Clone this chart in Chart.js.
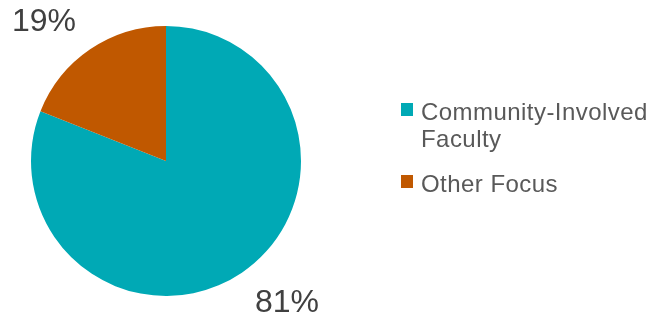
<!DOCTYPE html>
<html>
<head>
<meta charset="utf-8">
<script src="https://cdn.jsdelivr.net/npm/chart.js@4"></script>
<style>
  html, body { margin: 0; padding: 0; background: #fff; }
  #wrap { width: 656px; height: 317px; }
</style>
</head>
<body>
<div id="wrap"><canvas id="myChart" width="656" height="317"></canvas></div>
<script>
// data
const categories = [["Community-Involved", "Faculty"], ["Other Focus"]];
const shares = [81, 19];
const sliceColors = ["#00A9B5", "#C05800"];

// percent labels + legend drawn on the canvas
const labelPlugin = {
  id: "labels",
  afterDraw(chart) {
    const ctx = chart.ctx;
    const arcs = chart.getDatasetMeta(0).data;
    ctx.save();
    ctx.font = "32px 'Liberation Sans', Arial, sans-serif";
    ctx.fillStyle = "#404040";
    ctx.textAlign = "center";
    ctx.textBaseline = "middle";
    // label positions outside the slices
    const spots = [[287, 303], [44, 22]];
    arcs.forEach((arc, i) => {
      ctx.fillText(shares[i] + "%", spots[i][0], spots[i][1]);
    });

    // legend
    ctx.font = "24px 'Liberation Sans', Arial, sans-serif";
    ctx.letterSpacing = "0.45px";
    ctx.textAlign = "left";
    ctx.textBaseline = "alphabetic";
    let y = 120;
    categories.forEach((lines, i) => {
      ctx.fillStyle = sliceColors[i];
      ctx.fillRect(401, y - 17, 12, 13);
      ctx.fillStyle = "#595959";
      lines.forEach((t, j) => {
        ctx.fillText(t, 421, y + j * 27);
      });
      y += lines.length * 27 + 18;
    });
    ctx.restore();
  }
};

new Chart(document.getElementById("myChart"), {
  type: "pie",
  data: {
    labels: categories.map(c => c.join(" ")),
    datasets: [{
      data: shares,
      backgroundColor: sliceColors,
      borderWidth: 0
    }]
  },
  options: {
    responsive: false,
    animation: false,
    layout: { padding: { top: 26, bottom: 21, left: 31, right: 355 } },
    plugins: { legend: { display: false }, tooltip: { enabled: false } }
  },
  plugins: [labelPlugin]
});
</script>
</body>
</html>
